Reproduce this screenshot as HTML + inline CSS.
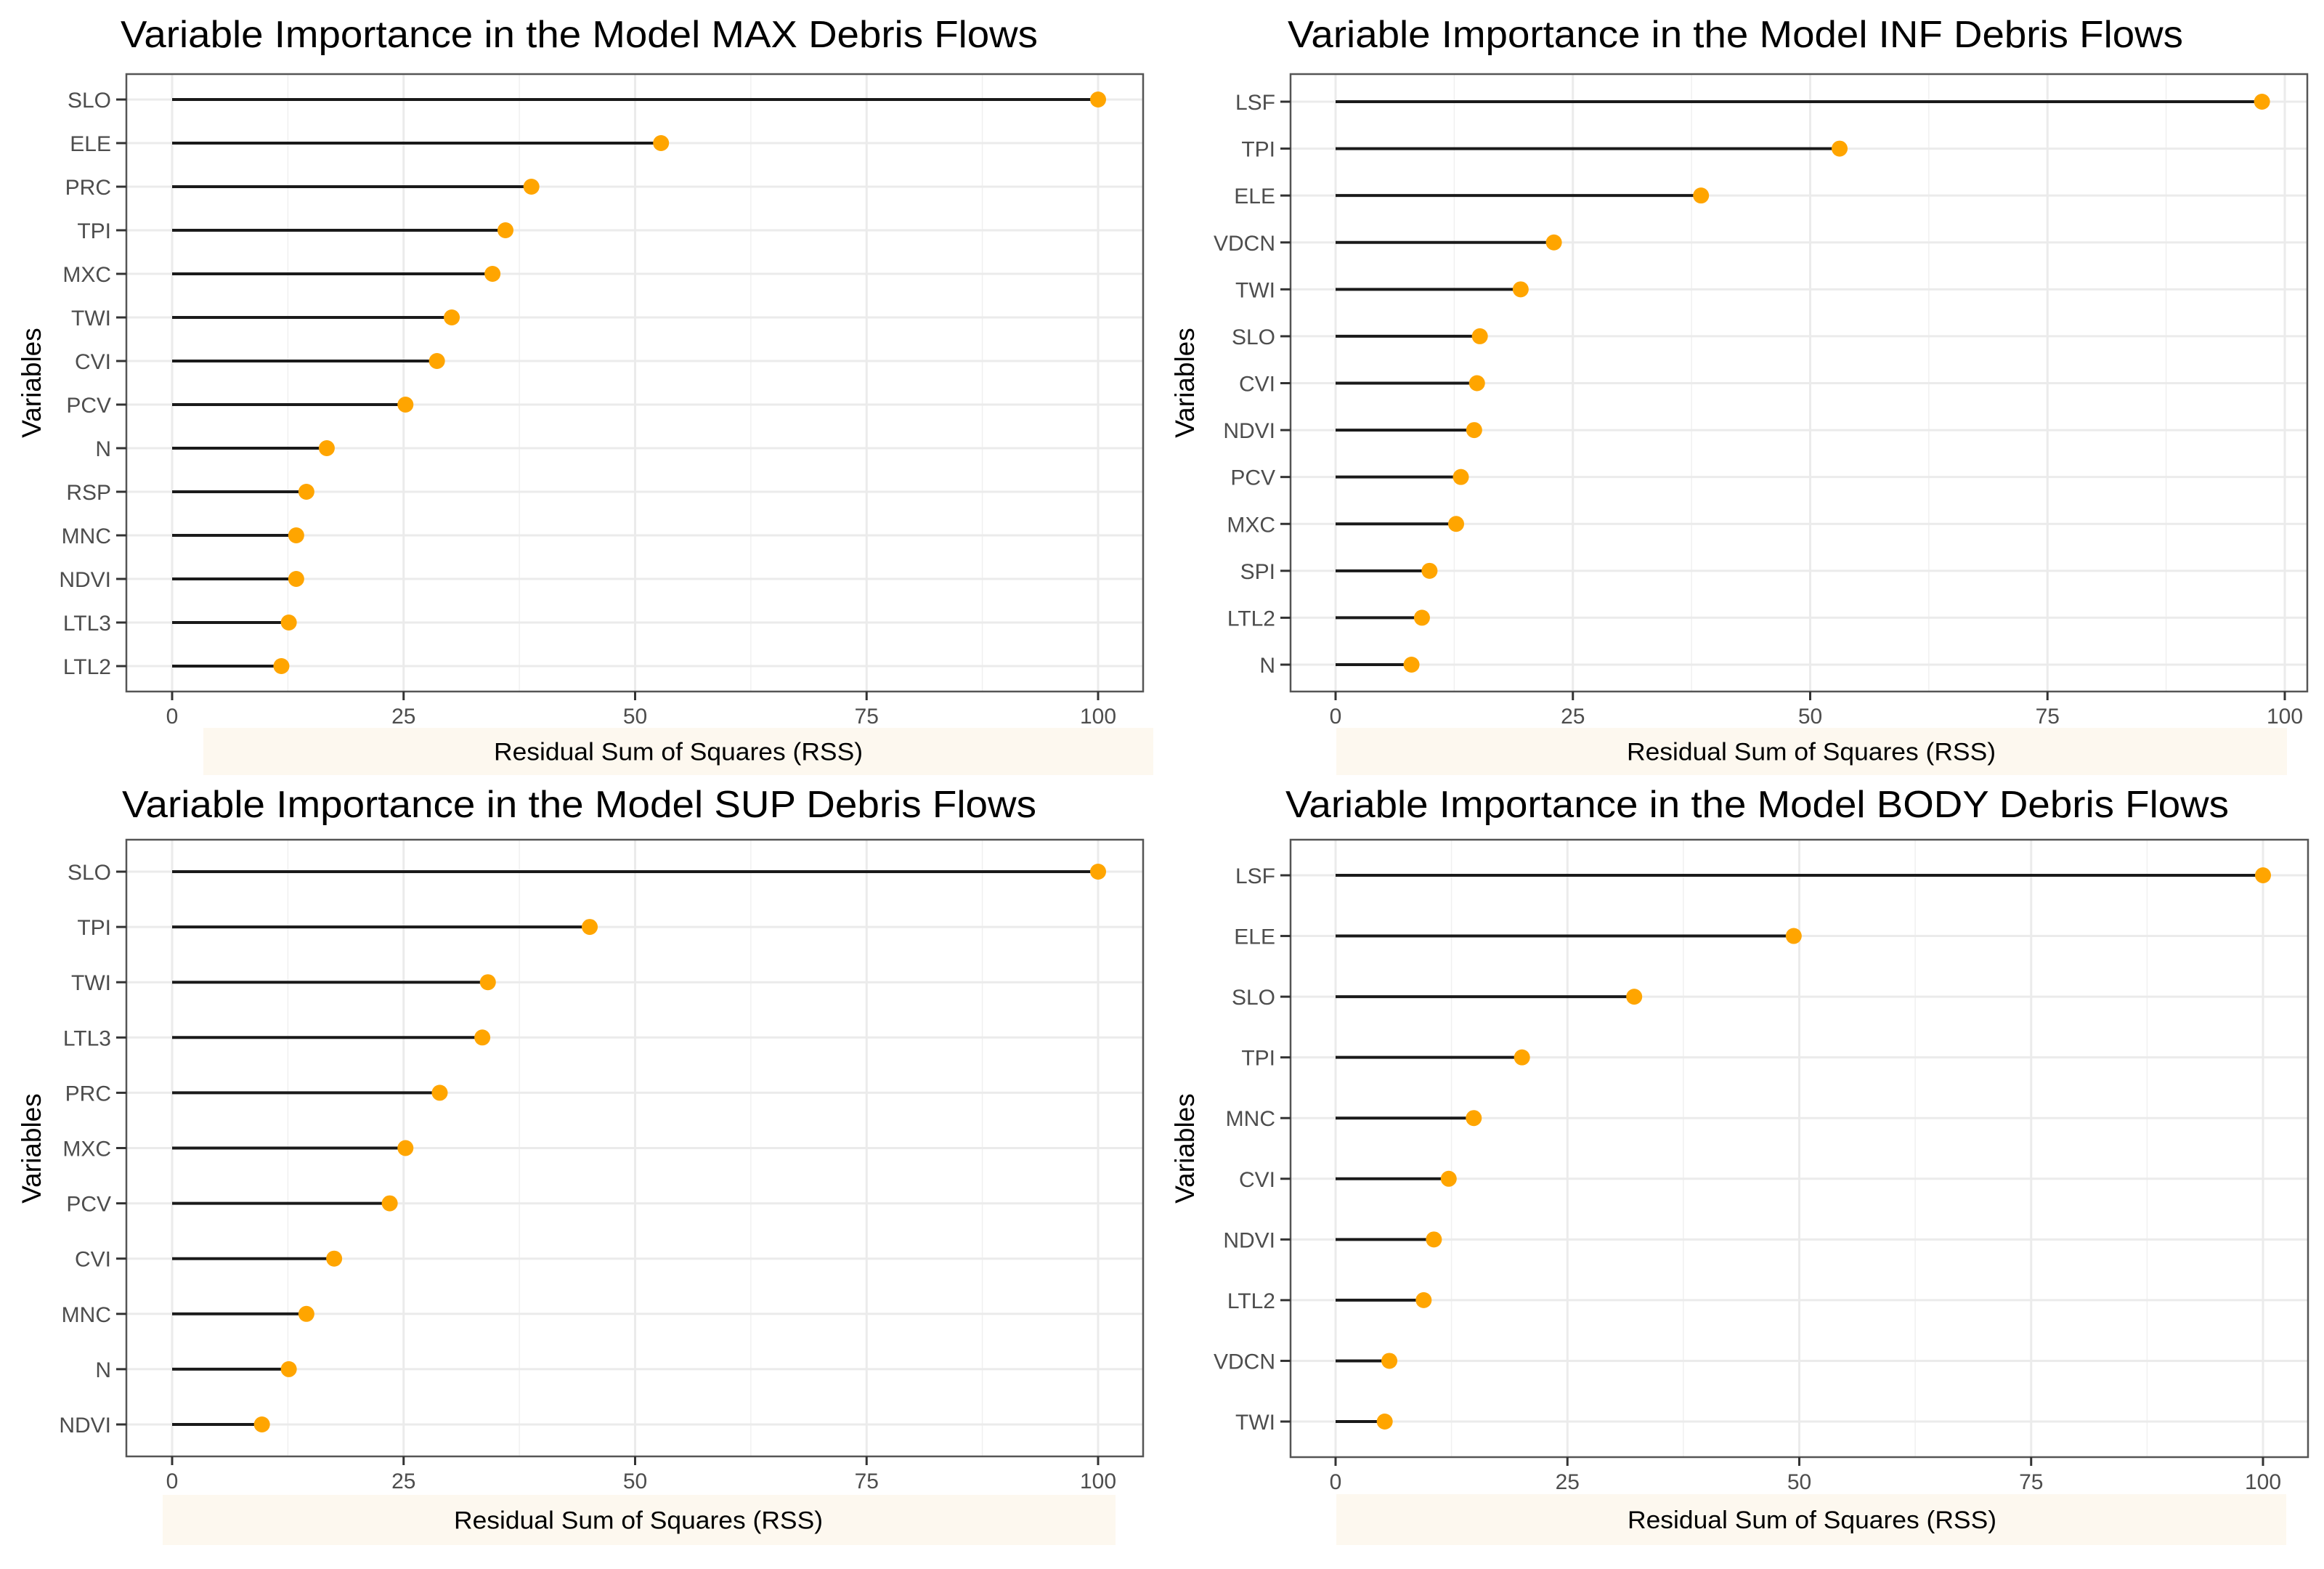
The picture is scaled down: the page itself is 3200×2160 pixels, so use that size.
<!DOCTYPE html>
<html><head><meta charset="utf-8"><style>
html,body{margin:0;padding:0;background:#fff;}
svg{display:block;font-family:"Liberation Sans",sans-serif;}
</style></head>
<body>
<svg id="chart" width="3200" height="2160" viewBox="0 0 3200 2160" xmlns="http://www.w3.org/2000/svg"></svg>
<script>
const maxVars = ["SLO","ELE","PRC","TPI","MXC","TWI","CVI","PCV","N","RSP","MNC","NDVI","LTL3","LTL2"];
const maxVals = [100,52.8,38.8,36,34.6,30.2,28.6,25.2,16.7,14.5,13.4,13.4,12.6,11.8];
const infVars = ["LSF","TPI","ELE","VDCN","TWI","SLO","CVI","NDVI","PCV","MXC","SPI","LTL2","N"];
const infVals = [97.6,53.1,38.5,23,19.5,15.2,14.9,14.6,13.2,12.7,9.9,9.1,8.0];
const supVars = ["SLO","TPI","TWI","LTL3","PRC","MXC","PCV","CVI","MNC","N","NDVI"];
const supVals = [100,45.1,34.1,33.5,28.9,25.2,23.5,17.5,14.5,12.6,9.7];
const bodyVars = ["LSF","ELE","SLO","TPI","MNC","CVI","NDVI","LTL2","VDCN","TWI"];
const bodyVals = [100,49.4,32.2,20.1,14.9,12.2,10.6,9.5,5.8,5.3];
const xTicks = [0,25,50,75,100];
const xTickLabels = ["0","25","50","75","100"];

const NS = "http://www.w3.org/2000/svg";
const svg = document.getElementById("chart");
function mk(tag, attrs, parent){
  const e = document.createElementNS(NS, tag);
  for (const k in attrs) e.setAttribute(k, attrs[k]);
  (parent||svg).appendChild(e);
  return e;
}

const panels = [
  {id:"max", title:"Variable Importance in the Model MAX Debris Flows", vars:maxVars, vals:maxVals,
   box:[174,102,1574,952], x0:237, x100:1512, yFirst:137, yLast:917, titleX:166, titleW:1263, titleY:65,
   band:[280,1002,1588,1067], bandTextX:934, varX:43, varY:527},
  {id:"inf", title:"Variable Importance in the Model INF Debris Flows", vars:infVars, vals:infVals,
   box:[1777,102,3177,952], x0:1839, x100:3146, yFirst:140, yLast:915, titleX:1773, titleW:1233, titleY:65,
   band:[1840,1002,3149,1067], bandTextX:2494, varX:1631, varY:527},
  {id:"sup", title:"Variable Importance in the Model SUP Debris Flows", vars:supVars, vals:supVals,
   box:[174,1156,1574,2005], x0:237, x100:1512, yFirst:1200, yLast:1961, titleX:168, titleW:1259, titleY:1125,
   band:[224,2058,1536,2127], bandTextX:879, varX:43, varY:1581},
  {id:"body", title:"Variable Importance in the Model BODY Debris Flows", vars:bodyVars, vals:bodyVals,
   box:[1777,1156,3178,2006], x0:1839, x100:3116, yFirst:1205, yLast:1957, titleX:1770, titleW:1299, titleY:1125,
   band:[1840,2057,3148,2127], bandTextX:2495, varX:1631, varY:1581}
];

panels.forEach(p => {
  const g = mk("g", {});
  
  
  const xs = v => p.x0 + (p.x100 - p.x0) * v / 100;
  const n = p.vars.length;
  const ys = i => p.yFirst + (p.yLast - p.yFirst) * i / (n - 1);
  const [bx0, by0, bx1, by1] = p.box;

  const t = mk("text", {x:p.titleX, y:p.titleY, "font-size":52, fill:"#000", textLength:p.titleW, lengthAdjust:"spacingAndGlyphs"}, g);
  t.textContent = p.title;
  
  

  mk("rect", {x:bx0, y:by0, width:bx1-bx0, height:by1-by0, fill:"#fff"}, g);
  // minor grid
  for (let k = 0; k < 4; k++) {
    const xm = xs(12.5 + 25 * k);
    mk("line", {x1:xm, x2:xm, y1:by0, y2:by1, stroke:"#f0f0f0", "stroke-width":1.5}, g);
  }
  // major grid
  xTicks.forEach(v => {
    mk("line", {x1:xs(v), x2:xs(v), y1:by0, y2:by1, stroke:"#ebebeb", "stroke-width":3}, g);
  });
  p.vars.forEach((_, i) => {
    mk("line", {x1:bx0, x2:bx1, y1:ys(i), y2:ys(i), stroke:"#ebebeb", "stroke-width":3}, g);
  });
  // lollipops
  p.vals.forEach((v, i) => {
    const seg = mk("line", {x1:xs(0), x2:xs(v), y1:ys(i), y2:ys(i), stroke:"#1a1a1a", "stroke-width":4}, g);
    
    
    const c = mk("circle", {cx:xs(v), cy:ys(i), r:11, fill:"#FFA500"}, g);
    
    
  });
  mk("rect", {x:bx0, y:by0, width:bx1-bx0, height:by1-by0, fill:"none", stroke:"#555", "stroke-width":2.5}, g);

  // y ticks and labels
  p.vars.forEach((name, i) => {
    mk("line", {x1:bx0-14, x2:bx0, y1:ys(i), y2:ys(i), stroke:"#333", "stroke-width":3}, g);
    const l = mk("text", {x:bx0-21, y:ys(i)+11, "font-size":30, fill:"#4d4d4d", "text-anchor":"end"}, g);
    l.textContent = name;
    
    
  });
  // x ticks and labels
  xTicks.forEach((v, k) => {
    mk("line", {x1:xs(v), x2:xs(v), y1:by1, y2:by1+12, stroke:"#333", "stroke-width":3}, g);
    const l = mk("text", {x:xs(v), y:by1+44, "font-size":30, fill:"#4d4d4d", "text-anchor":"middle"}, g);
    l.textContent = xTickLabels[k];
    
    
  });
  // x-axis title band
  const [ax0, ay0, ax1, ay1] = p.band;
  const band = mk("rect", {x:ax0, y:ay0, width:ax1-ax0, height:ay1-ay0, fill:"#fdf8ef"}, g);
  
  
  const xt = mk("text", {x:p.bandTextX, y:(ay0+ay1)/2+12, "font-size":34, fill:"#000", "text-anchor":"middle", textLength:508, lengthAdjust:"spacingAndGlyphs"}, g);
  xt.textContent = "Residual Sum of Squares (RSS)";
  
  
  // y-axis title
  const yt = mk("text", {x:0, y:0, "font-size":37, fill:"#000", "text-anchor":"middle", transform:`translate(${p.varX+13},${p.varY}) rotate(-90)`}, g);
  yt.textContent = "Variables";
  
  
});
</script>
</body></html>
